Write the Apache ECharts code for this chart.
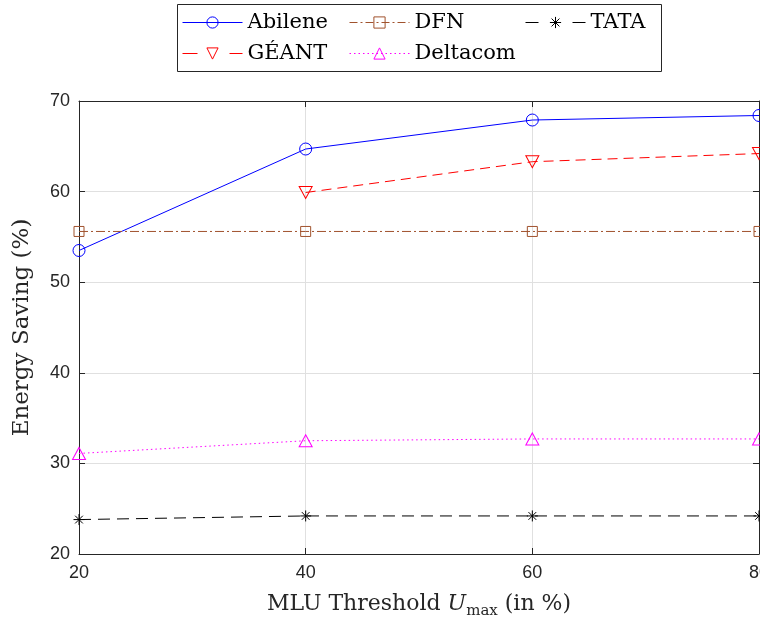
<!DOCTYPE html>
<html>
<head>
<meta charset="utf-8">
<script src="https://cdn.jsdelivr.net/npm/echarts@6/dist/echarts.min.js"></script>
<style>html,body{margin:0;padding:0;background:#fff;}#c{width:760px;height:619px;}</style>
</head>
<body>
<div id="c"></div>
<script>
const xValues = [20, 40, 60, 80];
const seriesNames = ['Abilene', 'GÉANT', 'DFN', 'Deltacom', 'TATA'];
const abilene = [53.5, 64.7, 67.9, 68.4];
const geant = [null, 59.9, 63.3, 64.2];
const dfn = [55.6, 55.6, 55.6, 55.6];
const deltacom = [31.1, 32.5, 32.7, 32.7];
const tata = [23.8, 24.2, 24.2, 24.2];
const yTicks = [20, 30, 40, 50, 60, 70];
const xTicks = [20, 40, 60, 80];

const pairs = vals => xValues.map((x, i) => [x, vals[i]]);
const serif = 'DejaVu Serif';
const axisColor = '#262626';
const symCircle = 'path://M0,5A5,5 0 1,1 10,5A5,5 0 1,1 0,5Z';
const symTriDown = 'path://M0,0L10,0L5,10Z';
const symTriUp = 'path://M5,0L10,10L0,10Z';
const symSquare = 'path://M0,0L10,0L10,10L0,10Z';
const symAsterisk = 'path://M5,0L5,10M1.5,1.5L8.5,8.5M1.5,8.5L8.5,1.5M0,5L10,5';

function mkSeries(name, data, color, lineType, symbol, size) {
  return {
    name, type: 'line', data: pairs(data), connectNulls: false,
    symbol, symbolSize: size,
    lineStyle: { color, width: 1, type: lineType },
    itemStyle: { color: 'rgba(255,255,255,0)', borderColor: color, borderWidth: 1 },
    emphasis: { disabled: true },
    z: 3
  };
}

const series = [
  mkSeries(seriesNames[0], abilene, '#0000ff', 'solid', symCircle, 12),
  mkSeries(seriesNames[1], geant, '#ff0000', [10, 6], symTriDown, [13, 12]),
  mkSeries(seriesNames[2], dfn, '#a0522d', [9, 3, 2, 3], symSquare, 10),
  mkSeries(seriesNames[3], deltacom, '#ff00ff', [1.5, 3], symTriUp, [13, 12]),
  mkSeries(seriesNames[4], tata, '#000000', [12, 7], symAsterisk, 11)
];

const legendPos = [[182, 12], [182, 43], [349, 12], [349, 43], [525, 12]];
const legendLineTypes = ['solid', [15, 32], [8, 3, 2, 3], [1.5, 3], [13, 34]];
const legends = seriesNames.map((n, i) => ({
  data: [n], left: legendPos[i][0], top: legendPos[i][1], padding: 0,
  itemWidth: 60, itemHeight: 14, selectedMode: false,
  lineStyle: { type: legendLineTypes[i], width: 1 },
  itemStyle: { borderWidth: 1 },
  textStyle: { fontFamily: serif, fontSize: 21, color: '#000' }
}));

const chart = echarts.init(document.getElementById('c'), null, { renderer: 'canvas' });
const baseX = {
  type: 'value', min: 20, max: 80, interval: 20,
  axisLine: { show: true, lineStyle: { color: axisColor, width: 1 } },
  axisTick: { show: true, inside: true, length: 6, lineStyle: { color: axisColor } },
  splitLine: { show: false }
};
const baseY = {
  type: 'value', min: 20, max: 70, interval: 10,
  axisLine: { show: true, lineStyle: { color: axisColor, width: 1 } },
  axisTick: { show: true, inside: true, length: 6, lineStyle: { color: axisColor } },
  splitLine: { show: false }
};
chart.setOption({
  animation: false,
  backgroundColor: '#fff',
  grid: { left: 79, right: 1, top: 101, bottom: 65, containLabel: false, outerBoundsMode: 'none' },
  legend: legends,
  graphic: [{
    type: 'rect', shape: { x: 177.5, y: 4.5, width: 484, height: 67 },
    style: { fill: '#fff', stroke: axisColor, lineWidth: 1 }, z: -1
  }],
  xAxis: [
    Object.assign({}, baseX, {
      position: 'bottom',
      splitLine: { show: true, lineStyle: { color: '#e0e0e0', width: 1 } },
      axisLabel: { fontFamily: 'Liberation Sans', fontSize: 18, color: axisColor, margin: 10,
        formatter: v => xTicks.includes(v) ? String(v) : '' },
      name: '{n|MLU Threshold }{i|U}{s|max}{n| (in %)}',
      nameLocation: 'middle', nameGap: 35,
      nameTextStyle: {
        rich: {
          n: { fontFamily: serif, fontSize: 22, color: axisColor, lineHeight: 30, verticalAlign: 'middle' },
          i: { fontFamily: serif, fontStyle: 'italic', fontSize: 22, color: axisColor, lineHeight: 30, verticalAlign: 'middle' },
          s: { fontFamily: serif, fontSize: 15, color: axisColor, lineHeight: 30, verticalAlign: 'bottom' }
        }
      }
    }),
    Object.assign({}, baseX, { position: 'top', axisLabel: { show: false } })
  ],
  yAxis: [
    Object.assign({}, baseY, {
      position: 'left',
      splitLine: { show: true, lineStyle: { color: '#e0e0e0', width: 1 } },
      axisLabel: { fontFamily: 'Liberation Sans', fontSize: 18, color: axisColor, margin: 9,
        formatter: v => yTicks.includes(v) ? String(v) : '' },
      name: 'Energy Saving (%)', nameLocation: 'middle', nameGap: 45,
      nameTextStyle: { fontFamily: serif, fontSize: 23, color: axisColor }
    }),
    Object.assign({}, baseY, { position: 'right', axisLabel: { show: false } })
  ],
  series
});
</script>
</body>
</html>
